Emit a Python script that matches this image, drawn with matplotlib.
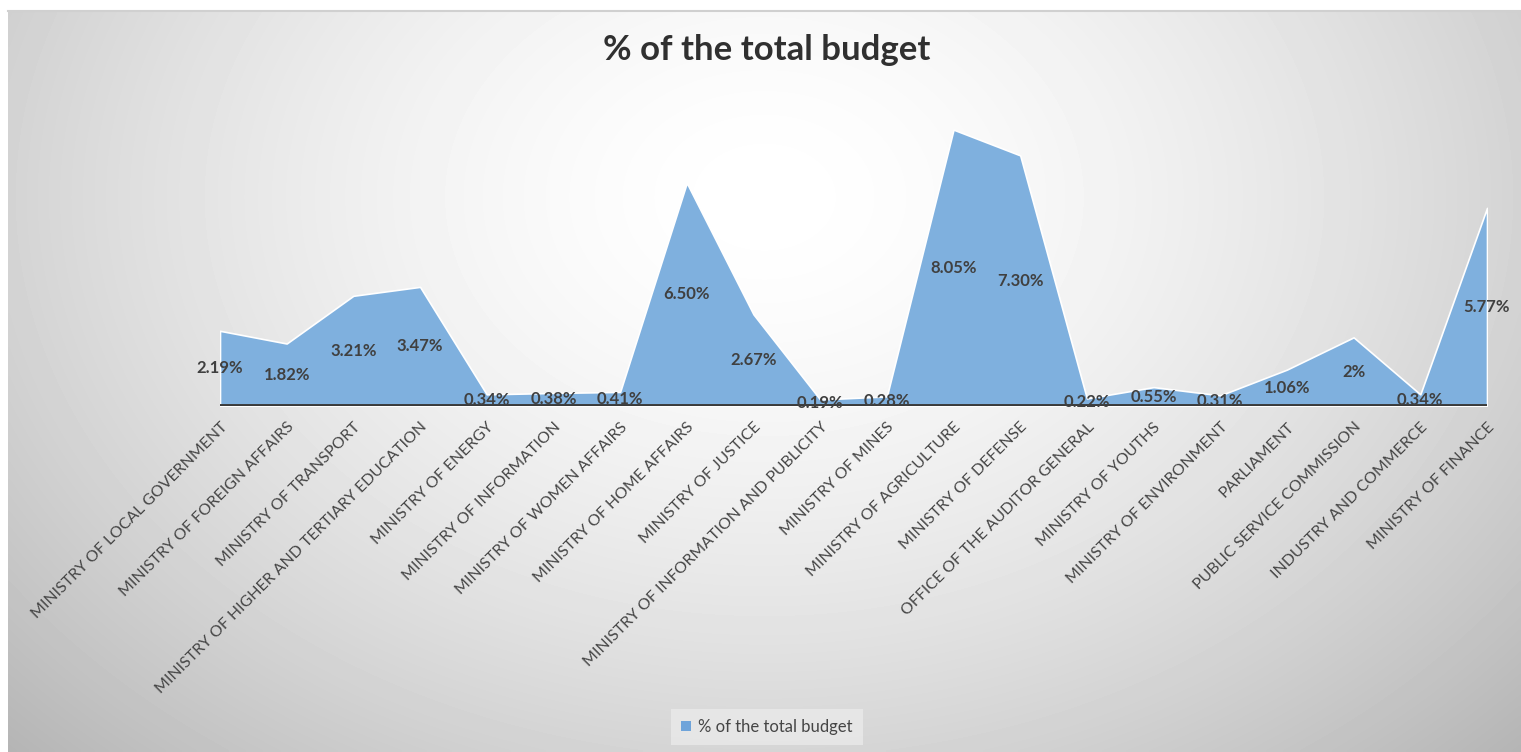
import numpy as np
import matplotlib.pyplot as plt
from matplotlib.patches import Patch

plt.rcParams["font.family"] = ["Lato", "DejaVu Sans"]

ministries = [
    "MINISTRY OF LOCAL GOVERNMENT",
    "MINISTRY OF FOREIGN AFFAIRS",
    "MINISTRY OF TRANSPORT",
    "MINISTRY OF HIGHER AND TERTIARY EDUCATION",
    "MINISTRY OF ENERGY",
    "MINISTRY OF INFORMATION",
    "MINISTRY OF WOMEN AFFAIRS",
    "MINISTRY OF HOME AFFAIRS",
    "MINISTRY OF JUSTICE",
    "MINISTRY OF INFORMATION AND PUBLICITY",
    "MINISTRY OF MINES",
    "MINISTRY OF AGRICULTURE",
    "MINISTRY OF DEFENSE",
    "OFFICE OF THE AUDITOR GENERAL",
    "MINISTRY OF YOUTHS",
    "MINISTRY OF ENVIRONMENT",
    "PARLIAMENT",
    "PUBLIC SERVICE COMMISSION",
    "INDUSTRY AND COMMERCE",
    "MINISTRY OF FINANCE",
]
share = [2.19, 1.82, 3.21, 3.47, 0.34, 0.38, 0.41, 6.50, 2.67, 0.19,
         0.28, 8.05, 7.30, 0.22, 0.55, 0.31, 1.06, 2.00, 0.34, 5.77]
share_labels = ["2.19%", "1.82%", "3.21%", "3.47%", "0.34%", "0.38%", "0.41%",
                "6.50%", "2.67%", "0.19%", "0.28%", "8.05%", "7.30%", "0.22%",
                "0.55%", "0.31%", "1.06%", "2%", "0.34%", "5.77%"]

W, H = 1521, 752
fig = plt.figure(figsize=(W / 100, H / 100), dpi=100, facecolor="white")

# radial grey gradient behind the chart, like the Excel chart area
bg = fig.add_axes([8 / W, 0, 1 - 8 / W, (H - 11) / H])
gx, gy = np.meshgrid(np.linspace(0, 1, 400), np.linspace(0, 1, 200))
r = np.sqrt(((gx - 0.5) / 0.62) ** 2 + ((gy - 0.25) / 0.95) ** 2)
shade = 1.0 - 0.24 * np.clip(r, 0, 1.2) ** 1.6
bg.imshow(shade, cmap="gray", vmin=0, vmax=1, aspect="auto",
          extent=[0, 1, 0, 1], origin="upper", interpolation="bilinear")
bg.axis("off")
fig.add_artist(plt.Line2D([8 / W, 1], [(H - 11) / H] * 2, color="#d0d0d0",
                          lw=1.5, transform=fig.transFigure))

ax = fig.add_axes([220 / W, (H - 406) / H, (1487 - 220) / W, (406 - 97) / H])
ax.patch.set_alpha(0)
x = np.arange(len(share))
ax.fill_between(x, share, 0, color="#7fb0de", edgecolor="white", linewidth=1.2,
                label="% of the total budget", zorder=2)
ax.set_xlim(0, len(share) - 1)
ax.set_ylim(0, 9)
ax.axhline(0, color="#3a3a3a", lw=2.8, zorder=3)

for xi, v, lab in zip(x, share, share_labels):
    ax.text(xi, v / 2, lab, ha="center", va="center", fontsize=12,
            fontweight="bold", color="#404040", zorder=4)

ax.set_yticks([])
ax.set_xticks(x)
ax.set_xticklabels(ministries, rotation=45, ha="right", va="top",
                   rotation_mode="anchor", fontsize=11.4, color="#454545")
ax.tick_params(axis="x", length=0, pad=10)
for s in ax.spines.values():
    s.set_visible(False)

fig.text(767 / W, 1 - 50 / H, "% of the total budget", ha="center", va="center",
         fontsize=25, fontweight="bold", color="#303030")

leg = fig.legend(handles=[Patch(facecolor="#6fa4da", edgecolor="none")],
                 labels=["% of the total budget"], loc="center",
                 bbox_to_anchor=(767 / W, 1 - 727 / H), frameon=True,
                 fontsize=12, handlelength=0.6, handleheight=0.6,
                 handletextpad=0.4, borderpad=0.6, borderaxespad=0,
                 fancybox=False)
leg.get_frame().set_facecolor("#eaeaea")
leg.get_frame().set_edgecolor("none")
for t in leg.get_texts():
    t.set_color("#454545")

fig.savefig("out.png", dpi=100, facecolor="white")
